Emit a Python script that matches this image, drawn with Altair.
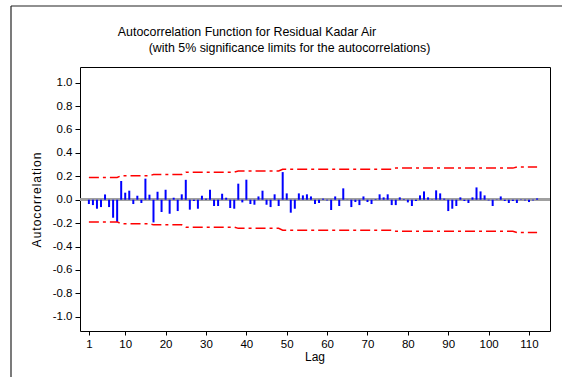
import altair as alt
import pandas as pd

# Autocorrelation of the residuals, lags 1..112
lags = list(range(1, 113))
acf = [
    -0.037, -0.046, -0.077, -0.063, 0.045, -0.063, -0.154, -0.190, 0.160, 0.060,
    0.077, -0.037, 0.034, -0.028, 0.180, 0.043, -0.194, 0.068, -0.105, 0.085,
    -0.120, 0.017, -0.097, 0.046, 0.170, -0.085, -0.011, -0.077, 0.034, 0.009,
    0.085, -0.054, -0.054, 0.051, 0.017, -0.071, -0.077, 0.137, -0.023, 0.171,
    -0.037, -0.043, 0.028, 0.077, -0.043, -0.063, 0.046, -0.054, 0.236, 0.054,
    -0.111, -0.077, 0.054, 0.037, 0.046, 0.028, -0.037, -0.028, 0.009, -0.006,
    -0.088, 0.028, -0.054, 0.097, 0.002, -0.063, -0.020, -0.046, 0.028, -0.020,
    -0.037, 0.005, 0.046, 0.020, 0.046, -0.046, -0.046, 0.020, 0.005, -0.023,
    -0.054, -0.011, 0.037, 0.071, 0.020, 0.003, 0.080, 0.054, 0.009, -0.097,
    -0.077, -0.054, 0.020, -0.011, -0.028, 0.020, 0.105, 0.071, 0.037, -0.006,
    -0.054, 0.003, 0.028, -0.011, -0.028, -0.011, -0.028, 0.003, -0.006, -0.020,
    -0.006, 0.011,
]

# 5% significance limits (upper side; the lower side mirrors it)
limit_lags = [1, 8, 9, 16, 17, 24, 25, 37, 38, 48, 49, 76, 77, 106, 107, 112]
limit_vals = [0.19, 0.19, 0.205, 0.205, 0.215, 0.215, 0.235, 0.235,
              0.245, 0.245, 0.26, 0.26, 0.27, 0.27, 0.28, 0.28]

x_ticks = [1, 10, 20, 30, 40, 50, 60, 70, 80, 90, 100, 110]
y_ticks = [-1.0, -0.8, -0.6, -0.4, -0.2, 0.0, 0.2, 0.4, 0.6, 0.8, 1.0]

title_text = "Autocorrelation Function for Residual Kadar Air"
subtitle_text = "(with 5% significance limits for the autocorrelations)"
y_title = "\u200a".join("Autocorrelation")
x_title = "Lag"

FONT = "Liberation Sans"

acf_df = pd.DataFrame({"lag": lags, "acf": acf, "zero": [0.0] * len(lags)})
lim_df = pd.concat([
    pd.DataFrame({"lag": limit_lags, "limit": limit_vals, "side": "upper"}),
    pd.DataFrame({"lag": limit_lags, "limit": [-v for v in limit_vals], "side": "lower"}),
])

x_scale = alt.Scale(domain=[-1.2, 115.2], nice=False, zero=False)
y_scale = alt.Scale(domain=[-1.122, 1.134], nice=False)

x_axis = alt.Axis(values=x_ticks, title=None, tickSize=4, labelPadding=3)
# plain hyphen for negative labels
y_axis = alt.Axis(values=y_ticks, title=None, tickSize=5, labelPadding=3,
                  labelExpr="(datum.value < 0 ? '-' : '') + format(abs(datum.value), '.1f')")

zero_line = alt.Chart(acf_df).mark_rule(color="#a0a0a0", strokeWidth=2).encode(
    x=alt.value(0), x2=alt.value(470),
    y=alt.Y("zero:Q", scale=y_scale, axis=y_axis),
)

bars = alt.Chart(acf_df).mark_rule(color="#0000ff", strokeWidth=2, strokeCap="butt").encode(
    x=alt.X("lag:Q", scale=x_scale, axis=x_axis),
    y=alt.Y("zero:Q", scale=y_scale, axis=y_axis),
    y2="acf:Q",
)

limits = alt.Chart(lim_df).mark_line(color="#ff0000", strokeWidth=1.5,
                                     strokeDash=[10, 4, 3, 4]).encode(
    x=alt.X("lag:Q", scale=x_scale, axis=x_axis),
    y=alt.Y("limit:Q", scale=y_scale, axis=y_axis),
    detail="side:N",
)

def label(text, x, y, size, angle=0):
    return alt.Chart(pd.DataFrame({"t": [text]})).mark_text(
        font=FONT, fontSize=size, color="black", align="center",
        baseline="middle", angle=angle,
    ).encode(text="t:N", x=alt.value(x), y=alt.value(y))

title = label(title_text, 167, -35, 12.4)
subtitle = label(subtitle_text, 209.5, -19, 12.4)
ylab = label(y_title, -43, 133, 12, angle=270)
xlab = label(x_title, 235, 290, 12)

frame_top = alt.Chart(pd.DataFrame({"a": [0]})).mark_rule(color="#222", strokeWidth=1.2).encode(
    x=alt.value(-69), x2=alt.value(482), y=alt.value(-61))
frame_left = alt.Chart(pd.DataFrame({"a": [0]})).mark_rule(color="#222", strokeWidth=1.2).encode(
    x=alt.value(-69), y=alt.value(-61), y2=alt.value(310))

chart = alt.layer(
    zero_line, bars, limits, title, subtitle, ylab, xlab, frame_top, frame_left
).properties(
    width=470, height=264,
    autosize=alt.AutoSizeParams(type="none"),
    padding={"left": 80, "top": 67, "right": 17, "bottom": 46},
    background="white",
).configure_view(
    stroke="black", strokeWidth=1
).configure_axis(
    grid=False, domain=False, labelOverlap=False, labelFlush=False,
    tickColor="black", labelColor="black", labelFont=FONT, labelFontSize=11.5,
)

chart.save("out.html", embed_options={"renderer": "svg", "actions": False})
